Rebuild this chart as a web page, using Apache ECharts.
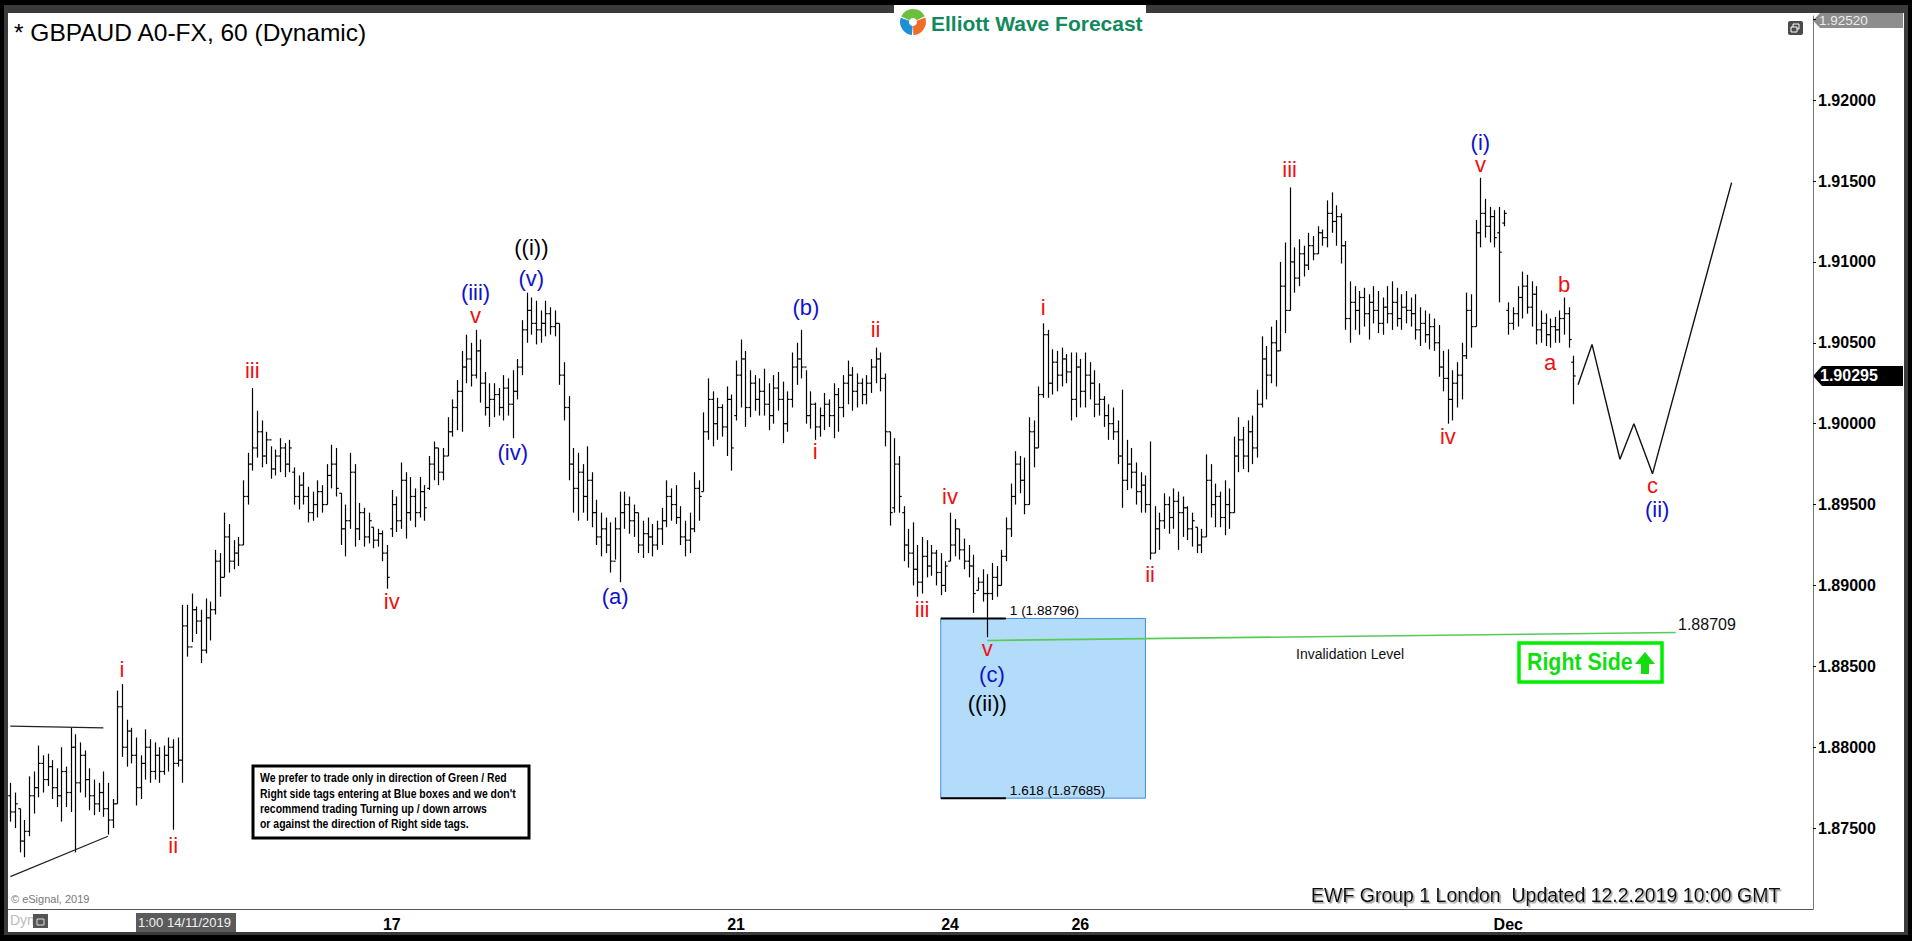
<!DOCTYPE html>
<html><head><meta charset="utf-8">
<script src="https://cdn.jsdelivr.net/npm/echarts@6/dist/echarts.min.js"></script>
<style>
html,body{margin:0;padding:0;background:#000;width:1912px;height:941px;overflow:hidden}
#frame{position:absolute;left:4px;top:5px;width:1904px;height:930px;background:#3a3a3a}
#panel{position:absolute;left:8px;top:13px;width:1896px;height:919px;background:#fff}
#chart{position:absolute;left:0;top:0;width:1912px;height:941px}
</style></head><body>
<div id="frame"></div><div id="panel"></div><div id="chart"></div>
<script>
// ---- hourly OHLC bars (GBPAUD, 60 min) ----
const opens = [
1.8770,1.8760,1.8762,1.8742,1.8748,1.8770,1.8775,1.8790,1.8780,1.8788,
1.8775,1.8770,1.8785,1.8772,1.8800,1.8778,1.8795,1.8780,1.8770,1.8765,
1.8772,1.8762,1.8755,1.8765,1.8825,1.8800,1.8810,1.8795,1.8775,1.8790,
1.8800,1.8785,1.8795,1.8785,1.8795,1.8800,1.8790,1.8792,1.8875,1.8862,
1.8885,1.8878,1.8860,1.8880,1.8885,1.8915,1.8905,1.8930,1.8915,1.8920,
1.8925,1.8955,1.8975,1.8985,1.8995,1.8980,1.8990,1.8972,1.8980,1.8985,
1.8975,1.8970,1.8955,1.8962,1.8955,1.8945,1.8950,1.8958,1.8950,1.8968,
1.8975,1.8957,1.8935,1.8940,1.8970,1.8935,1.8945,1.8930,1.8936,1.8928,
1.8932,1.8920,1.8935,1.8950,1.8940,1.8965,1.8945,1.8955,1.8945,1.8958,
1.8960,1.8975,1.8985,1.8970,1.8980,1.8995,1.9010,1.9020,1.9035,1.9040,
1.9030,1.9045,1.9025,1.9010,1.9015,1.9018,1.9010,1.9022,1.9012,1.9020,
1.9035,1.9058,1.9070,1.9062,1.9058,1.9062,1.9068,1.9060,1.9062,1.9030,
1.9010,1.8975,1.8960,1.8970,1.8955,1.8965,1.8945,1.8930,1.8935,1.8925,
1.8915,1.8935,1.8945,1.8950,1.8940,1.8945,1.8925,1.8932,1.8930,1.8925,
1.8935,1.8940,1.8955,1.8950,1.8942,1.8930,1.8928,1.8935,1.8960,1.8958,
1.8995,1.9015,1.9000,1.9010,1.8998,1.9015,1.9005,1.9030,1.9040,1.9010,
1.9025,1.9015,1.9020,1.9012,1.9005,1.9022,1.9015,1.9000,1.9015,1.9035,
1.9040,1.9035,1.9005,1.9012,1.8998,1.9005,1.9012,1.9005,1.9018,1.9010,
1.9025,1.9030,1.9020,1.9025,1.9018,1.9025,1.9035,1.9040,1.9028,1.8995,
1.8948,1.8975,1.8945,1.8925,1.8920,1.8910,1.8902,1.8918,1.8912,1.8920,
1.8908,1.8900,1.8915,1.8925,1.8935,1.8922,1.8915,1.8912,1.8897,1.8902,
1.8895,1.8895,1.8905,1.8900,1.8918,1.8935,1.8955,1.8975,1.8965,1.8950,
1.8995,1.8985,1.9018,1.9055,1.9025,1.9038,1.9030,1.9040,1.9032,1.9015,
1.9035,1.9020,1.9030,1.9025,1.9012,1.9015,1.9005,1.9000,1.8995,1.8980,
1.8965,1.8975,1.8970,1.8958,1.8962,1.8950,1.8920,1.8935,1.8940,1.8950,
1.8942,1.8952,1.8945,1.8948,1.8935,1.8936,1.8925,1.8930,1.8965,1.8950,
1.8955,1.8942,1.8950,1.8945,1.8980,1.8990,1.8980,1.8995,1.8985,1.9012,
1.9040,1.9030,1.9050,1.9045,1.9085,1.9070,1.9100,1.9090,1.9105,1.9098,
1.9110,1.9105,1.9118,1.9115,1.9130,1.9125,1.9128,1.9110,1.9065,1.9075,
1.9070,1.9078,1.9068,1.9075,1.9070,1.9062,1.9072,1.9068,1.9075,1.9065,
1.9072,1.9070,1.9068,1.9058,1.9062,1.9055,1.9060,1.9050,1.9035,1.9028,
1.9015,1.9025,1.9030,1.9042,1.9070,1.9060,1.9118,1.9130,1.9122,1.9128,
1.9118,1.9124,1.9070,1.9062,1.9068,1.9078,1.9085,1.9072,1.9080,1.9058,
1.9062,1.9055,1.9060,1.9058,1.9065,1.9068,1.9038];
const highs = [
1.8778,1.8772,1.8762,1.8755,1.8782,1.8785,1.8801,1.8795,1.8796,1.8792,
1.8787,1.8800,1.8788,1.8812,1.8808,1.8803,1.8798,1.8787,1.8780,1.8778,
1.8785,1.8778,1.8768,1.8835,1.8839,1.8817,1.8812,1.8806,1.8795,1.8811,
1.8805,1.8803,1.8800,1.8801,1.8806,1.8805,1.8806,1.8888,1.8888,1.8895,
1.8887,1.8885,1.8892,1.8890,1.8922,1.8920,1.8945,1.8938,1.8928,1.8930,
1.8965,1.8982,1.9022,1.9008,1.9002,1.8995,1.8986,1.8984,1.8991,1.8988,
1.8990,1.8973,1.8968,1.8970,1.8961,1.8958,1.8965,1.8962,1.8975,1.8987,
1.8985,1.8957,1.8950,1.8982,1.8975,1.8951,1.8948,1.8945,1.8936,1.8935,
1.8934,1.8925,1.8959,1.8955,1.8976,1.8970,1.8967,1.8960,1.8967,1.8962,
1.8980,1.8989,1.8985,1.8985,1.9004,1.9015,1.9027,1.9045,1.9055,1.9050,
1.9058,1.9052,1.9032,1.9025,1.9025,1.9022,1.9030,1.9028,1.9033,1.9040,
1.9064,1.9081,1.9078,1.9076,1.9070,1.9076,1.9072,1.9070,1.9062,1.9038,
1.9017,1.8985,1.8982,1.8975,1.8986,1.8970,1.8953,1.8945,1.8942,1.8939,
1.8942,1.8958,1.8958,1.8955,1.8950,1.8945,1.8940,1.8942,1.8938,1.8940,
1.8948,1.8965,1.8960,1.8962,1.8949,1.8940,1.8945,1.8970,1.8965,1.9007,
1.9028,1.9020,1.9016,1.9012,1.9023,1.9018,1.9039,1.9052,1.9045,1.9033,
1.9030,1.9028,1.9034,1.9025,1.9030,1.9032,1.9026,1.9020,1.9044,1.9050,
1.9058,1.9033,1.9020,1.9013,1.9010,1.9019,1.9015,1.9025,1.9022,1.9030,
1.9039,1.9035,1.9031,1.9028,1.9030,1.9040,1.9047,1.9044,1.9031,1.8995,
1.8991,1.8980,1.8949,1.8935,1.8939,1.8925,1.8930,1.8928,1.8925,1.8922,
1.8920,1.8915,1.8945,1.8941,1.8935,1.8929,1.8925,1.8919,1.8905,1.8910,
1.8907,1.8914,1.8912,1.8922,1.8942,1.8963,1.8983,1.8980,1.8979,1.9004,
1.9002,1.9023,1.9062,1.9058,1.9046,1.9045,1.9047,1.9043,1.9044,1.9044,
1.9040,1.9044,1.9038,1.9033,1.9025,1.9017,1.9012,1.9010,1.9002,1.9021,
1.8990,1.8985,1.8976,1.8970,1.8968,1.8989,1.8949,1.8945,1.8957,1.8955,
1.8960,1.8958,1.8955,1.8949,1.8945,1.8936,1.8935,1.8981,1.8975,1.8963,
1.8958,1.8965,1.8960,1.8992,1.9004,1.8998,1.9002,1.9005,1.9021,1.9054,
1.9048,1.9060,1.9064,1.9100,1.9112,1.9146,1.9109,1.9114,1.9110,1.9118,
1.9116,1.9122,1.9120,1.9138,1.9143,1.9135,1.9130,1.9113,1.9088,1.9085,
1.9082,1.9084,1.9080,1.9085,1.9082,1.9078,1.9085,1.9088,1.9084,1.9080,
1.9082,1.9078,1.9080,1.9072,1.9070,1.9068,1.9065,1.9061,1.9045,1.9046,
1.9033,1.9038,1.9050,1.9081,1.9080,1.9126,1.9152,1.9139,1.9134,1.9132,
1.9134,1.9132,1.9075,1.9072,1.9085,1.9094,1.9092,1.9088,1.9085,1.9070,
1.9068,1.9065,1.9066,1.9070,1.9078,1.9072,1.9042];
const lows = [
1.8754,1.8750,1.8735,1.8732,1.8745,1.8759,1.8769,1.8772,1.8776,1.8768,
1.8763,1.8754,1.8763,1.8760,1.8735,1.8772,1.8769,1.8761,1.8758,1.8760,
1.8757,1.8746,1.8750,1.8765,1.8794,1.8788,1.8790,1.8764,1.8768,1.8780,
1.8778,1.8780,1.8778,1.8783,1.8785,1.8749,1.8788,1.8778,1.8856,1.8865,
1.8870,1.8852,1.8858,1.8866,1.8882,1.8893,1.8905,1.8908,1.8910,1.8912,
1.8925,1.8950,1.8971,1.8979,1.8973,1.8975,1.8966,1.8968,1.8970,1.8967,
1.8970,1.8950,1.8947,1.8950,1.8939,1.8940,1.8942,1.8945,1.8950,1.8960,
1.8955,1.8925,1.8918,1.8935,1.8924,1.8928,1.8924,1.8926,1.8923,1.8924,
1.8915,1.8898,1.8930,1.8933,1.8935,1.8929,1.8940,1.8936,1.8942,1.8940,
1.8959,1.8965,1.8962,1.8965,1.8980,1.8992,1.8996,1.8995,1.9025,1.9023,
1.9028,1.9013,1.9005,1.8998,1.9004,1.9005,1.9002,1.9005,1.8991,1.9015,
1.9030,1.9050,1.9055,1.9049,1.9050,1.9054,1.9055,1.9054,1.9024,1.9002,
1.8965,1.8945,1.8940,1.8945,1.8940,1.8936,1.8925,1.8918,1.8920,1.8908,
1.8916,1.8902,1.8935,1.8932,1.8930,1.8920,1.8917,1.8920,1.8918,1.8922,
1.8925,1.8936,1.8940,1.8938,1.8925,1.8918,1.8920,1.8933,1.8940,1.8958,
1.8990,1.8986,1.8990,1.8992,1.8980,1.8971,1.9002,1.9010,1.8998,1.9004,
1.9008,1.9005,1.9005,1.8996,1.9000,1.9008,1.8988,1.8995,1.9010,1.9024,
1.9028,1.9000,1.8997,1.8990,1.8992,1.8996,1.8998,1.8991,1.8995,1.9004,
1.9012,1.9008,1.9010,1.9012,1.9012,1.9019,1.9025,1.9020,1.8986,1.8937,
1.8945,1.8945,1.8915,1.8911,1.8900,1.8893,1.8895,1.8905,1.8906,1.8900,
1.8894,1.8896,1.8915,1.8918,1.8916,1.8910,1.8905,1.8883,1.8897,1.8890,
1.8868,1.8891,1.8893,1.8900,1.8915,1.8930,1.8950,1.8957,1.8944,1.8950,
1.8973,1.8985,1.9016,1.9016,1.9018,1.9020,1.9023,1.9025,1.9002,1.9004,
1.9010,1.9010,1.9015,1.9004,1.9005,1.8998,1.8990,1.8990,1.8975,1.8948,
1.8959,1.8960,1.8950,1.8945,1.8945,1.8916,1.8920,1.8922,1.8935,1.8932,
1.8935,1.8922,1.8930,1.8928,1.8924,1.8920,1.8920,1.8930,1.8942,1.8936,
1.8936,1.8931,1.8935,1.8945,1.8970,1.8972,1.8970,1.8975,1.8979,1.9010,
1.9015,1.9025,1.9023,1.9045,1.9056,1.9070,1.9081,1.9085,1.9091,1.9095,
1.9101,1.9105,1.9110,1.9109,1.9118,1.9110,1.9099,1.9058,1.9050,1.9058,
1.9055,1.9060,1.9052,1.9062,1.9056,1.9055,1.9062,1.9058,1.9060,1.9058,
1.9062,1.9060,1.9052,1.9048,1.9050,1.9046,1.9045,1.9029,1.9020,1.9000,
1.9002,1.9010,1.9015,1.9040,1.9047,1.9060,1.9109,1.9115,1.9112,1.9109,
1.9075,1.9122,1.9055,1.9058,1.9060,1.9065,1.9068,1.9060,1.9049,1.9050,
1.9048,1.9047,1.9050,1.9050,1.9055,1.9047,1.9012];
const closes = [
1.8760,1.8765,1.8742,1.8748,1.8770,1.8775,1.8790,1.8780,1.8788,1.8775,
1.8770,1.8785,1.8772,1.8800,1.8778,1.8795,1.8780,1.8770,1.8765,1.8772,
1.8762,1.8755,1.8765,1.8825,1.8800,1.8810,1.8795,1.8775,1.8790,1.8800,
1.8785,1.8795,1.8785,1.8795,1.8800,1.8790,1.8792,1.8875,1.8862,1.8885,
1.8878,1.8860,1.8880,1.8885,1.8915,1.8905,1.8930,1.8915,1.8920,1.8925,
1.8955,1.8975,1.8985,1.8995,1.8980,1.8990,1.8972,1.8980,1.8985,1.8975,
1.8985,1.8955,1.8962,1.8955,1.8945,1.8950,1.8958,1.8950,1.8968,1.8975,
1.8960,1.8935,1.8940,1.8970,1.8935,1.8945,1.8930,1.8940,1.8928,1.8932,
1.8920,1.8905,1.8950,1.8940,1.8965,1.8945,1.8955,1.8945,1.8958,1.8948,
1.8975,1.8985,1.8970,1.8980,1.8995,1.9010,1.9020,1.9035,1.9040,1.9030,
1.9045,1.9025,1.9010,1.9015,1.9018,1.9010,1.9022,1.9012,1.9020,1.9035,
1.9058,1.9070,1.9062,1.9058,1.9062,1.9068,1.9060,1.9062,1.9030,1.9010,
1.8975,1.8960,1.8970,1.8955,1.8965,1.8945,1.8930,1.8935,1.8925,1.8915,
1.8935,1.8945,1.8950,1.8940,1.8945,1.8925,1.8932,1.8930,1.8925,1.8935,
1.8940,1.8955,1.8950,1.8942,1.8930,1.8928,1.8935,1.8960,1.8955,1.8995,
1.9015,1.9000,1.9010,1.8998,1.9015,1.8985,1.9030,1.9040,1.9010,1.9025,
1.9015,1.9020,1.9012,1.9005,1.9022,1.9015,1.9000,1.9015,1.9035,1.9040,
1.9035,1.9005,1.9012,1.8998,1.9005,1.9012,1.9005,1.9018,1.9010,1.9025,
1.9030,1.9020,1.9025,1.9018,1.9025,1.9035,1.9040,1.9028,1.8995,1.8945,
1.8975,1.8955,1.8925,1.8920,1.8910,1.8902,1.8918,1.8912,1.8920,1.8908,
1.8900,1.8912,1.8925,1.8935,1.8922,1.8915,1.8912,1.8895,1.8902,1.8895,
1.8895,1.8905,1.8900,1.8918,1.8935,1.8955,1.8975,1.8965,1.8950,1.8995,
1.8985,1.9018,1.9055,1.9025,1.9038,1.9030,1.9040,1.9032,1.9015,1.9035,
1.9020,1.9030,1.9025,1.9012,1.9015,1.9005,1.9000,1.8995,1.8980,1.8965,
1.8975,1.8970,1.8958,1.8962,1.8950,1.8920,1.8935,1.8940,1.8950,1.8942,
1.8952,1.8945,1.8948,1.8935,1.8940,1.8925,1.8930,1.8965,1.8950,1.8955,
1.8942,1.8950,1.8945,1.8980,1.8990,1.8980,1.8995,1.8985,1.9012,1.9040,
1.9030,1.9050,1.9045,1.9085,1.9070,1.9100,1.9090,1.9105,1.9098,1.9110,
1.9105,1.9118,1.9115,1.9130,1.9125,1.9128,1.9110,1.9065,1.9075,1.9070,
1.9078,1.9068,1.9075,1.9070,1.9062,1.9072,1.9068,1.9075,1.9065,1.9072,
1.9070,1.9068,1.9058,1.9062,1.9055,1.9060,1.9050,1.9035,1.9028,1.9015,
1.9025,1.9030,1.9042,1.9070,1.9060,1.9118,1.9130,1.9122,1.9128,1.9115,
1.9106,1.9130,1.9062,1.9068,1.9078,1.9085,1.9072,1.9080,1.9058,1.9062,
1.9055,1.9060,1.9058,1.9065,1.9068,1.9052,1.90295];

// ---- axis definition ----
const totalSlots = 388;
const xTickIndex = [82, 156, 202, 230, 322];
const xTickText = ['17', '21', '24', '26', 'Dec'];
const yTickMin = 1.87, yTickMax = 1.9252, yTickStep = 0.005;
const axisTopValue = 1.92520;
const lastPrice = 1.90295;

// ---- analysis overlays ----
const fibLevels = [1.88796, 1.87685];
const fibNames = ['1 (1.88796)', '1.618 (1.87685)'];
const invalidationLevel = 1.88709;
const invalidationLine = [[210, 1.8866], [358, 1.88709]];
const projection = [[337, 1.9024], [340, 1.9049], [346, 1.8978], [349, 1.9000], [353, 1.8969], [370, 1.9149]];
const triangleUpper = [[0, 1.8813], [20, 1.8812]];
const triangleLower = [[0, 1.8720], [21, 1.8745]];

const redLabels = [
 [24, 1.8848, 'i'], [35, 1.8739, 'ii'], [52, 1.9033, 'iii'], [82, 1.8890, 'iv'], [100, 1.9067, 'v'],
 [173, 1.8983, 'i'], [186, 1.9058, 'ii'], [196, 1.8885, 'iii'], [202, 1.8955, 'iv'], [210, 1.8861, 'v'],
 [222, 1.9072, 'i'], [245, 1.8907, 'ii'], [275, 1.9157, 'iii'], [309, 1.8992, 'iv'], [316, 1.9160, 'v'],
 [331, 1.9038, 'a'], [334, 1.9086, 'b'], [353, 1.8962, 'c']];
const blueLabels = [
 [100, 1.9081, '(iii)'], [108, 1.8982, '(iv)'], [112, 1.9090, '(v)'], [130, 1.8893, '(a)'],
 [171, 1.9072, '(b)'], [211, 1.8845, '(c)'], [316, 1.9174, '(i)'], [354, 1.8947, '(ii)']];
const blackLabels = [[112, 1.9109, '((i))'], [210, 1.8827, '((ii))']];

const FONT = '"Liberation Sans", Arial, Helvetica, sans-serif';
const categories = Array.from({length: totalSlots}, (_, i) => {
  const k = xTickIndex.indexOf(i); return k >= 0 ? xTickText[k] : '';
});
const ohlcData = opens.map((o, i) => [i, o, highs[i], lows[i], closes[i]]);

function labelSeries(list, color) {
  return {
    type: 'custom', silent: true, z: 6,
    data: list.map(d => [d[0], d[1]]),
    encode: {x: 0, y: 1},
    renderItem(params, api) {
      const p = api.coord([api.value(0), api.value(1)]);
      return {type: 'text', x: p[0], y: p[1],
        style: {text: list[params.dataIndex][2], fill: color, font: '22px ' + FONT, align: 'center', verticalAlign: 'middle'}};
    }
  };
}
const lineSeries = (data, color, width, z) => ({
  type: 'line', data, symbol: 'none', silent: true, z: z || 4,
  lineStyle: {color, width}, animation: false
});

const chart = echarts.init(document.getElementById('chart'), null, {renderer: 'svg', width: 1912, height: 941});
const boxFrom = 200, boxTo = 244, fibLineTo = 214;

chart.setOption({
  animation: false,
  grid: {left: 8, right: 99, top: 16, bottom: 32},
  xAxis: {
    type: 'category', data: categories, boundaryGap: true,
    axisLine: {lineStyle: {color: '#555', width: 1}},
    axisTick: {alignWithLabel: true, length: 4, interval: (i, v) => v !== '', lineStyle: {color: '#555'}},
    axisLabel: {interval: (i, v) => v !== '', color: '#000', fontWeight: 'bold', fontSize: 16, fontFamily: FONT, margin: 7},
    splitLine: {show: false}
  },
  yAxis: {
    type: 'value', position: 'right', min: yTickMin, max: yTickMax, interval: yTickStep,
    axisLine: {show: true, lineStyle: {color: '#777'}},
    axisTick: {show: true, length: 3, lineStyle: {color: '#000'}},
    axisLabel: {
      color: '#000', fontWeight: 'bold', fontSize: 16, fontFamily: FONT, margin: 5,
      showMinLabel: false, showMaxLabel: false,
      formatter: v => (v < 1.872 || v > 1.921) ? '' : v.toFixed(5)
    },
    splitLine: {show: false}
  },
  series: [
    {
      type: 'custom', silent: true, z: 1,
      data: [[boxFrom, fibLevels[0], fibLevels[1]]],
      encode: {x: 0, y: [1, 2]},
      renderItem(params, api) {
        const a = api.coord([boxFrom, fibLevels[0]]);
        const b = api.coord([boxTo, fibLevels[1]]);
        const e = api.coord([fibLineTo, fibLevels[0]])[0];
        const f = '13.5px ' + FONT;
        return {type: 'group', children: [
          {type: 'rect', shape: {x: a[0], y: a[1], width: b[0] - a[0], height: b[1] - a[1]}, style: {fill: '#b3dbfa', stroke: '#3d8fd9', lineWidth: 1}},
          {type: 'line', shape: {x1: a[0], y1: a[1], x2: e, y2: a[1]}, style: {stroke: '#000', lineWidth: 2}},
          {type: 'line', shape: {x1: a[0], y1: b[1], x2: e, y2: b[1]}, style: {stroke: '#000', lineWidth: 2}},
          {type: 'text', x: e + 4, y: a[1] - 1, style: {text: fibNames[0], font: f, fill: '#000', align: 'left', verticalAlign: 'bottom'}},
          {type: 'text', x: e + 4, y: b[1] - 1, style: {text: fibNames[1], font: f, fill: '#000', align: 'left', verticalAlign: 'bottom'}}
        ]};
      }
    },
    {
      type: 'custom', name: 'GBPAUD', silent: true, z: 3,
      data: ohlcData, encode: {x: 0, y: [1, 2, 3, 4]},
      renderItem(params, api) {
        const i = api.value(0);
        const pO = api.coord([i, api.value(1)]);
        const pH = api.coord([i, api.value(2)]);
        const pL = api.coord([i, api.value(3)]);
        const pC = api.coord([i, api.value(4)]);
        const x = Math.round(pH[0]) + 0.5;
        const st = {stroke: '#000', lineWidth: 1.2};
        return {type: 'group', children: [
          {type: 'line', shape: {x1: x, y1: pH[1], x2: x, y2: pL[1]}, style: st},
          {type: 'line', shape: {x1: x - 2.2, y1: pO[1], x2: x, y2: pO[1]}, style: st},
          {type: 'line', shape: {x1: x, y1: pC[1], x2: x + 2.2, y2: pC[1]}, style: st}
        ]};
      }
    },
    lineSeries(triangleUpper, '#222', 1.2),
    lineSeries(triangleLower, '#222', 1.2),
    lineSeries(projection, '#111', 1.4),
    lineSeries(invalidationLine, '#55cc55', 1.6, 2),
    labelSeries(redLabels, '#ee1111'),
    labelSeries(blueLabels, '#1111cc'),
    labelSeries(blackLabels, '#000000')
  ]
});

const yLast = chart.convertToPixel({yAxisIndex: 0}, lastPrice);
const yInv = chart.convertToPixel({yAxisIndex: 0}, invalidationLevel);
const T = (x, y, text, font, fill, extra) => Object.assign({type: 'text', x, y, silent: true,
  style: Object.assign({text, font, fill, align: 'left', verticalAlign: 'middle'}, (extra && extra.style) || {})}, (extra && extra.el) || {});

chart.setOption({graphic: [
  T(14, 32, '* GBPAUD A0-FX, 60 (Dynamic)', '24.5px ' + FONT, '#000'),
  {type: 'rect', shape: {x: 894, y: 5, width: 252, height: 12}, style: {fill: '#fff'}, silent: true},
  {type: 'sector', shape: {cx: 913, cy: 22, r: 13, r0: 4, startAngle: -2.7, endAngle: -0.45}, style: {fill: '#6cbf3c'}, silent: true},
  {type: 'sector', shape: {cx: 913, cy: 22, r: 13, r0: 4, startAngle: -0.35, endAngle: 1.55}, style: {fill: '#f26b2a'}, silent: true},
  {type: 'sector', shape: {cx: 913, cy: 22, r: 13, r0: 4, startAngle: 1.65, endAngle: 3.48}, style: {fill: '#1f8fd6'}, silent: true},
  T(931, 23, 'Elliott Wave Forecast', 'bold 21px ' + FONT, '#138a5e'),
  {type: 'rect', shape: {x: 1788, y: 21, width: 15, height: 14, r: 2}, style: {fill: '#4a4a4a'}, silent: true},
  {type: 'rect', shape: {x: 1793, y: 24, width: 6, height: 5}, style: {fill: 'none', stroke: '#fff', lineWidth: 1}, silent: true},
  {type: 'rect', shape: {x: 1791, y: 27, width: 6, height: 5}, style: {fill: '#4a4a4a', stroke: '#fff', lineWidth: 1}, silent: true},
  {type: 'polygon', shape: {points: [[1813, 20.5], [1820, 13], [1903, 13], [1903, 28], [1820, 28]]}, style: {fill: '#8d8d8d'}, silent: true},
  T(1819, 20.5, axisTopValue.toFixed(5), '13.5px ' + FONT, '#ececec'),
  {type: 'polygon', shape: {points: [[1813, yLast], [1822, yLast - 10], [1903, yLast - 10], [1903, yLast + 10], [1822, yLast + 10]]}, style: {fill: '#000'}, silent: true},
  T(1820, yLast, lastPrice.toFixed(5), 'bold 16px ' + FONT, '#fff'),
  T(1678, yInv - 8, invalidationLevel.toFixed(5), '16px ' + FONT, '#111'),
  T(1296, yInv + 21, 'Invalidation Level', '14px ' + FONT, '#111'),
  {type: 'rect', shape: {x: 1519, y: 643, width: 143, height: 39}, style: {fill: '#fff', stroke: '#00ee00', lineWidth: 3.5}, silent: true},
  T(1527, 662, 'Right Side', 'bold 24px ' + FONT, '#11dd11', {el: {scaleX: 0.89}}),
  {type: 'polygon', shape: {points: [[1635, 664], [1645, 652], [1655, 664], [1649, 664], [1649, 674], [1641, 674], [1641, 664]]}, style: {fill: '#11dd11'}, silent: true},
  {type: 'rect', shape: {x: 253, y: 766, width: 276, height: 72}, style: {fill: '#fff', stroke: '#000', lineWidth: 3}, silent: true},
  T(260, 778, 'We prefer to trade only in direction of Green / Red', 'bold 12px ' + FONT, '#000', {el: {scaleX: 0.87}}),
  T(260, 794, "Right side tags entering at Blue boxes and we don't", 'bold 12px ' + FONT, '#000', {el: {scaleX: 0.87}}),
  T(260, 809, 'recommend trading Turning up / down arrows', 'bold 12px ' + FONT, '#000', {el: {scaleX: 0.87}}),
  T(260, 824, 'or against the direction of Right side tags.', 'bold 12px ' + FONT, '#000', {el: {scaleX: 0.87}}),
  T(11, 899, '\u00a9 eSignal, 2019', '11px ' + FONT, '#777'),
  T(1311, 895, 'EWF Group 1 London  Updated 12.2.2019 10:00 GMT', '20px ' + FONT, '#111',
    {el: {scaleX: 0.975}, style: {textShadowColor: '#999', textShadowOffsetX: 1.5, textShadowOffsetY: 1.5, textShadowBlur: 1}}),
  T(10, 920, 'Dyn', '14px ' + FONT, '#bbb'),
  {type: 'rect', shape: {x: 33, y: 914, width: 15, height: 14}, style: {fill: '#555'}, silent: true},
  {type: 'rect', shape: {x: 37, y: 919, width: 7, height: 6}, style: {fill: 'none', stroke: '#ddd', lineWidth: 1}, silent: true},
  {type: 'rect', shape: {x: 136, y: 913, width: 100, height: 19}, style: {fill: '#5b5b5b'}, silent: true},
  T(138, 922.5, '1:00 14/11/2019', '13px ' + FONT, '#f2f2f2')
]});
</script></body></html>
